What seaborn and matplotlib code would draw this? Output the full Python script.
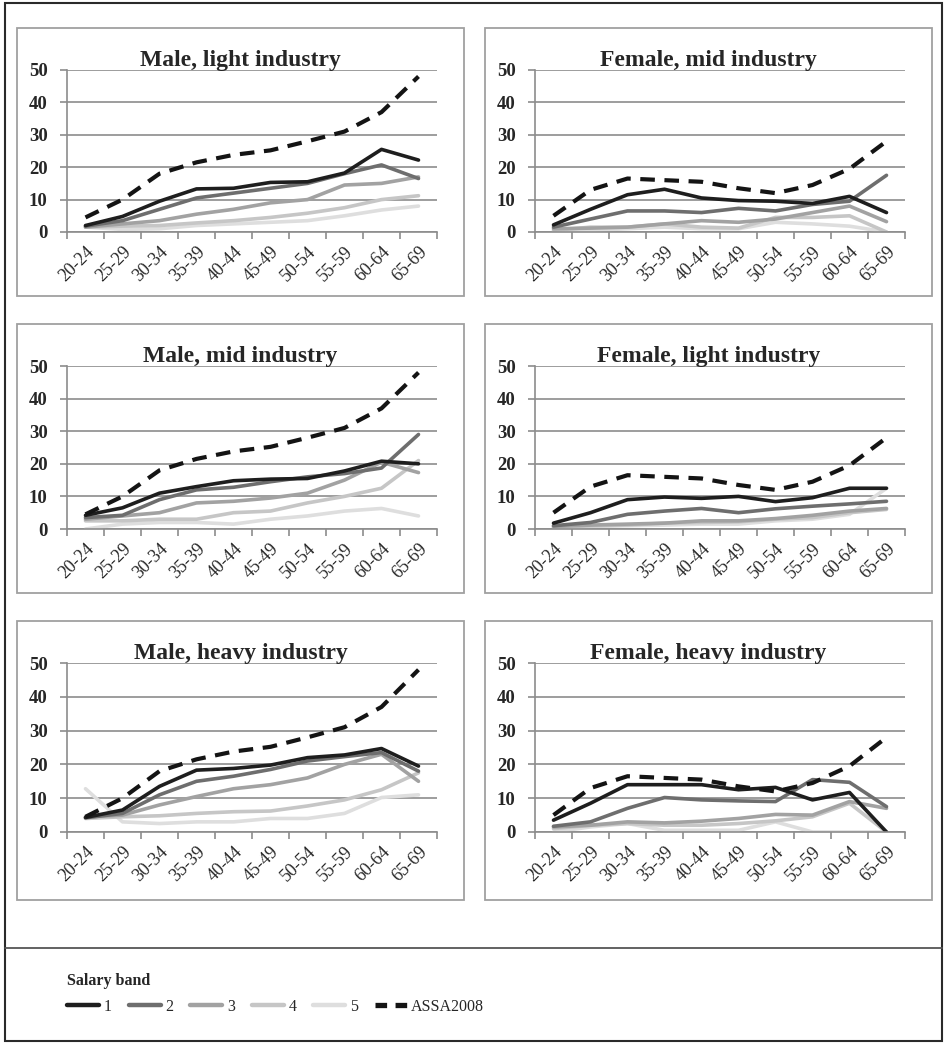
import numpy as np
import pandas as pd
import seaborn as sns
import matplotlib
matplotlib.use("Agg")
import matplotlib.pyplot as plt
from matplotlib.lines import Line2D
from matplotlib.patches import Rectangle

sns.set_theme(style="white")
plt.rcParams["font.family"] = ["Liberation Serif", "DejaVu Serif"]

# Age groups on the category axis
age_groups = ["20-24", "25-29", "30-34", "35-39", "40-44",
              "45-49", "50-54", "55-59", "60-64", "65-69"]
y_ticks = [0, 10, 20, 30, 40, 50]

# ASSA2008 reference rates
assa_male = [4.5, 10, 18, 21.5, 23.8, 25.2, 28, 31, 37, 48]
assa_female = [5, 13, 16.5, 16, 15.5, 13.5, 12, 14.5, 19.5, 28]

# Salary bands 1..5 per panel
male_light = [
    [2, 4.8, 9.5, 13.3, 13.5, 15.3, 15.5, 18.2, 25.5, 22.2],
    [1.8, 3.5, 7, 10.5, 12, 13.5, 15, 18, 20.7, 16.5],
    [1.5, 2.5, 3.5, 5.5, 7, 9, 10, 14.5, 15, 17],
    [1.5, 1.8, 2, 2.8, 3.5, 4.5, 5.8, 7.5, 10, 11.2],
    [1.5, 0.8, 1, 2, 2.5, 3, 3.5, 5, 6.8, 8],
]
female_mid = [
    [2.2, 7, 11.5, 13.2, 10.5, 9.7, 9.5, 8.8, 11, 6],
    [1.5, 4, 6.5, 6.5, 6, 7.3, 6.5, 8.5, 9.5, 17.5],
    [1, 1.2, 1.5, 2.5, 3.5, 3, 4, 6, 8, 3.2],
    [0.5, 1.5, 1.5, 2.5, 1.5, 1.2, 4.5, 4.5, 5, 0],
    [0.2, 0.5, 1, 1.5, 1, 1, 3, 2.5, 1.8, 0],
]
male_mid = [
    [4.2, 6.5, 11, 13, 14.8, 15.3, 15.5, 17.8, 20.8, 20],
    [3.5, 4.2, 9, 12, 12.8, 14.5, 16, 17, 18.7, 29],
    [3, 4, 5, 8, 8.5, 9.5, 11, 15, 20.5, 17.3],
    [2.5, 2.5, 3, 3, 5, 5.5, 8, 10, 12.5, 21],
    [0, 1.5, 2, 2, 1.5, 3, 4, 5.5, 6.3, 4],
]
female_light = [
    [1.8, 5, 9, 9.8, 9.4, 10, 8.4, 9.6, 12.5, 12.5],
    [1, 2, 4.5, 5.5, 6.3, 5, 6.2, 7, 7.7, 8.5],
    [0.8, 1.2, 1.5, 1.8, 2.5, 2.5, 3.2, 4.2, 5.5, 6.3],
    [0.5, 1, 1.2, 1.8, 2, 2.2, 3, 3.5, 5, 6],
    [0.3, 0.8, 1, 1.2, 1.5, 1.5, 2.5, 3, 4.5, 12.5],
]
male_heavy = [
    [4.3, 6.5, 13.5, 18.3, 18.8, 19.8, 22, 22.8, 24.7, 19.5],
    [4.2, 5.5, 11, 15, 16.5, 18.5, 21, 22.3, 23.5, 18],
    [4.5, 5, 8, 10.5, 12.8, 14, 16, 20, 23, 15],
    [4, 4.5, 4.8, 5.5, 6, 6.2, 7.7, 9.5, 12.5, 17.5],
    [12.8, 3, 2.5, 3, 3, 4, 4, 5.5, 10.2, 11],
]
female_heavy = [
    [3.5, 8.5, 14, 14, 14, 12.5, 13.2, 9.5, 11.7, 0],
    [1.7, 3, 7, 10.2, 9.5, 9.2, 9, 15.5, 14.7, 7.5],
    [1.5, 2, 3, 2.7, 3.2, 4, 5.2, 5, 9, 7],
    [1, 2, 2.5, 2, 2, 2.5, 3.3, 4.5, 8.5, 0],
    [0, 1.5, 2.5, 0.5, 0.5, 0.5, 3, 0, 0, 0],
]

band_labels = ["1", "2", "3", "4", "5"]
band_colors = ["#1e1e1e", "#6e6e6e", "#a2a2a2", "#c6c6c6", "#dedede"]

panels = [
    ("Male, light industry", male_light, assa_male),
    ("Female, mid industry", female_mid, assa_female),
    ("Male, mid industry", male_mid, assa_male),
    ("Female, light industry", female_light, assa_female),
    ("Male, heavy industry", male_heavy, assa_male),
    ("Female, heavy industry", female_heavy, assa_female),
]

W, H = 945, 1044
fig = plt.figure(figsize=(W / 100, H / 100), dpi=100)

# pixel layout helpers (top-left origin)
def fx(px):
    return px / W

def fy(py):
    return 1 - py / H

col_plot_x = [(67, 437), (535, 905)]
col_box_x = [(17, 464), (485, 932)]
row_plot_y = [(70, 232), (366, 529), (663, 832)]
row_box_y = [(28, 296), (324, 593), (621, 900)]

grid_col = "#8c8c8c"
assa_lw = 3.0
band_lw = 2.6
x = np.arange(len(age_groups))

for i, (title, bands, assa) in enumerate(panels):
    r, c = divmod(i, 2)
    # panel frame
    bx0, bx1 = col_box_x[c]
    by0, by1 = row_box_y[r]
    fig.add_artist(Rectangle((fx(bx0), fy(by1)), fx(bx1) - fx(bx0), fy(by0) - fy(by1),
                             transform=fig.transFigure, fill=False,
                             edgecolor="#a0a0a0", lw=1.3))
    px0, px1 = col_plot_x[c]
    py0, py1 = row_plot_y[r]
    ax = fig.add_axes([fx(px0), fy(py1), fx(px1) - fx(px0), fy(py0) - fy(py1)])

    # salary band lines, lightest first so the darker ones stay on top
    for k in range(len(bands) - 1, -1, -1):
        sns.lineplot(x=x, y=bands[k], ax=ax, color=band_colors[k],
                     lw=band_lw, solid_joinstyle="round", legend=False)
    sns.lineplot(x=x, y=assa, ax=ax, color="#141414", lw=assa_lw,
                 legend=False)
    ax.lines[-1].set_dashes((3.5, 2.3))

    ax.set_xlim(-0.5, len(age_groups) - 0.5)
    ax.set_ylim(0, 50)
    ax.set_yticks(y_ticks)
    ax.set_yticklabels([str(t) for t in y_ticks], fontsize=13.5, fontweight="bold")
    ax.yaxis.grid(True, color=grid_col, lw=1.2)
    ax.xaxis.grid(False)
    ax.set_axisbelow(True)

    # category boundaries get the tick marks, labels sit under the centres
    ax.set_xticks(np.arange(-0.5, len(age_groups), 1.0))
    ax.set_xticklabels([])
    ax.set_xticks(x, minor=True)
    ax.set_xticklabels(age_groups, minor=True, rotation=45, ha="right",
                       rotation_mode="anchor", fontsize=13)
    ax.tick_params(axis="x", which="major", length=5, width=1.2, color=grid_col,
                   direction="out", bottom=True)
    ax.tick_params(axis="x", which="minor", length=0, pad=8, bottom=True)
    ax.tick_params(axis="y", length=5, width=1.2, color=grid_col, left=True, pad=9)

    for side in ["top", "right"]:
        ax.spines[side].set_visible(False)
    for side in ["left", "bottom"]:
        ax.spines[side].set_color(grid_col)
        ax.spines[side].set_linewidth(1.2)
    ax.set_xlabel("")
    ax.set_ylabel("")

    cx = (fx(bx0) + fx(bx1)) / 2
    fig.text(cx, fy(py0 - 4), title, ha="center", va="baseline",
             fontsize=17, fontweight="bold")

# outer frame and separator above the legend
fig.add_artist(Rectangle((fx(5), fy(1041)), fx(942) - fx(5), fy(3) - fy(1041),
                         transform=fig.transFigure, fill=False,
                         edgecolor="#2a2a2a", lw=1.5))
fig.add_artist(Line2D([fx(5), fx(942)], [fy(948), fy(948)],
                      transform=fig.transFigure, color="#555555", lw=1.3))

handles = [Line2D([], [], color=band_colors[k], lw=band_lw + 0.6)
           for k in range(5)]
handles.append(Line2D([], [], color="#141414", lw=assa_lw + 0.8,
                      dashes=(2.2, 1.6)))
labels = band_labels + ["ASSA2008"]
fig.legend(handles, labels, loc="upper left",
           bbox_to_anchor=(fx(64), fy(970)), ncol=6, frameon=False,
           title="Salary band", alignment="left",
           title_fontproperties={"weight": "bold", "size": 11.5,
                                 "family": "Liberation Serif"},
           prop={"size": 11.5, "family": "Liberation Serif"},
           handlelength=2.0, handletextpad=0.3, columnspacing=1.05,
           borderaxespad=0, borderpad=0.2, labelspacing=0.6)

fig.savefig("out.png", dpi=100)
